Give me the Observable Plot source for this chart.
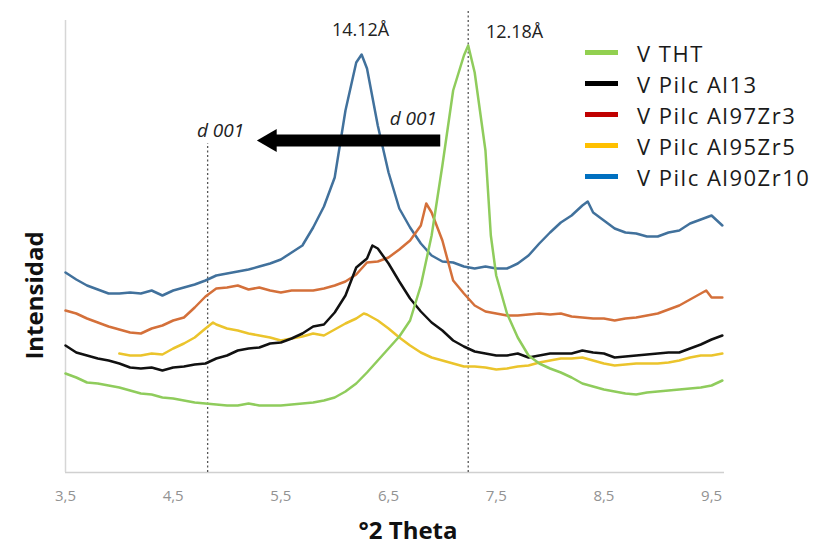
<!DOCTYPE html>
<html><head><meta charset="utf-8">
<script src="https://cdn.jsdelivr.net/npm/d3@7"></script>
<script src="https://cdn.jsdelivr.net/npm/@observablehq/plot@0.6"></script>
<style>
body{margin:0;background:#fff;font-family:"Open Sans",sans-serif;}
#wrap{position:relative;width:815px;height:550px;}
#legend{position:absolute;left:585px;top:37px;}
.item{display:flex;align-items:center;height:31px;}
.sw{width:33px;height:5px;margin-right:19px;}
.lab{font-size:22px;color:#1a1a1a;letter-spacing:1.5px;white-space:nowrap;}
</style></head><body><div id="wrap"><div id="legend"></div></div>
<script>
// Series names, line colours and legend swatch colours
const seriesNames = ["V THT", "V Pilc Al13", "V Pilc Al97Zr3", "V Pilc Al95Zr5", "V Pilc Al90Zr10"];
const lineColors = ["#8fcc5c", "#111111", "#d4703a", "#ebc42c", "#41719c"];
const legendColors = ["#92d050", "#000000", "#c00000", "#ffc000", "#0070c0"];
const xTicks = [3.5, 4.5, 5.5, 6.5, 7.5, 8.5, 9.5];

// Intensity (arbitrary units) vs °2θ
const vTHT = [[3.5,99],[3.6,95],[3.7,90],[3.8,89],[3.9,87],[4.0,85],[4.1,82],[4.2,79],[4.3,78],[4.4,75],[4.5,74],[4.6,72],[4.7,70],[4.8,69],[4.9,68],[5.0,67],[5.1,67],[5.2,69],[5.3,67],[5.4,67],[5.5,67],[5.6,68],[5.7,69],[5.8,70],[5.9,72],[6.0,75],[6.1,81],[6.2,89],[6.3,100],[6.4,112],[6.5,124],[6.6,136],[6.7,152],[6.8,187],[6.9,237],[7.0,307],[7.1,382],[7.2,417],[7.24,427],[7.3,400],[7.4,322],[7.45,237],[7.5,197],[7.6,159],[7.7,135],[7.8,117],[7.9,109],[8.0,104],[8.1,100],[8.2,95],[8.3,89],[8.4,86],[8.5,83],[8.6,81],[8.7,79],[8.8,78],[8.9,80],[9.0,81],[9.1,82],[9.2,83],[9.3,84],[9.4,85],[9.5,87],[9.6,92]];
const vAl13 = [[3.5,127],[3.6,120],[3.7,117],[3.8,114],[3.9,112],[4.0,109],[4.1,105],[4.2,104],[4.3,105],[4.4,102],[4.5,105],[4.6,106],[4.7,108],[4.8,109],[4.9,114],[5.0,117],[5.1,122],[5.2,124],[5.3,125],[5.4,129],[5.5,130],[5.6,134],[5.7,139],[5.8,146],[5.9,148],[6.0,160],[6.1,177],[6.2,205],[6.3,214],[6.35,227],[6.4,224],[6.5,209],[6.6,191],[6.7,174],[6.8,161],[6.9,150],[7.0,142],[7.1,132],[7.2,126],[7.3,121],[7.4,119],[7.5,117],[7.6,117],[7.7,119],[7.8,115],[7.9,117],[8.0,119],[8.1,119],[8.2,119],[8.3,122],[8.4,120],[8.5,119],[8.6,115],[8.7,116],[8.8,117],[8.9,118],[9.0,119],[9.1,120],[9.2,120],[9.3,124],[9.4,128],[9.5,133],[9.6,137]];
const vAl97Zr3 = [[3.5,162],[3.6,159],[3.7,154],[3.8,150],[3.9,146],[4.0,143],[4.1,140],[4.2,139],[4.3,144],[4.4,147],[4.5,152],[4.6,155],[4.7,165],[4.8,176],[4.9,184],[5.0,185],[5.1,187],[5.2,183],[5.3,185],[5.4,182],[5.5,180],[5.6,182],[5.7,182],[5.8,182],[5.9,184],[6.0,187],[6.1,191],[6.2,198],[6.3,210],[6.4,211],[6.5,215],[6.6,223],[6.7,232],[6.8,247],[6.85,269],[6.9,260],[7.0,232],[7.1,192],[7.2,179],[7.3,167],[7.4,161],[7.5,159],[7.6,157],[7.7,157],[7.8,158],[7.9,159],[8.0,158],[8.1,159],[8.2,156],[8.3,155],[8.4,154],[8.5,154],[8.6,152],[8.7,154],[8.8,155],[8.9,157],[9.0,159],[9.1,163],[9.2,167],[9.3,173],[9.4,179],[9.45,182],[9.5,175],[9.6,175]];
const vAl95Zr5 = [[4.0,119],[4.1,117],[4.2,117],[4.3,119],[4.4,118],[4.5,124],[4.6,129],[4.7,135],[4.8,144],[4.87,150],[4.9,148],[5.0,144],[5.1,142],[5.2,139],[5.3,137],[5.4,135],[5.5,132],[5.6,134],[5.7,136],[5.8,139],[5.9,137],[6.0,143],[6.1,149],[6.2,154],[6.27,159],[6.3,158],[6.4,152],[6.5,144],[6.6,135],[6.7,127],[6.8,120],[6.9,115],[7.0,112],[7.1,109],[7.2,106],[7.3,106],[7.4,105],[7.5,103],[7.6,104],[7.7,106],[7.8,107],[7.9,110],[8.0,112],[8.1,114],[8.2,114],[8.3,115],[8.4,112],[8.5,109],[8.6,107],[8.7,108],[8.8,109],[8.9,109],[9.0,109],[9.1,110],[9.2,112],[9.3,115],[9.4,117],[9.5,117],[9.6,119]];
const vAl90Zr10 = [[3.5,200],[3.6,193],[3.7,187],[3.8,183],[3.9,179],[4.0,179],[4.1,180],[4.2,179],[4.3,182],[4.4,177],[4.5,182],[4.6,185],[4.7,188],[4.8,192],[4.9,197],[5.0,199],[5.1,201],[5.2,203],[5.3,206],[5.4,209],[5.5,213],[5.6,220],[5.7,227],[5.8,245],[5.9,266],[6.0,295],[6.1,362],[6.2,410],[6.25,418],[6.3,404],[6.4,347],[6.5,300],[6.6,264],[6.7,245],[6.8,229],[6.9,217],[7.0,211],[7.1,210],[7.2,206],[7.3,204],[7.4,206],[7.5,204],[7.6,204],[7.7,209],[7.8,217],[7.9,229],[8.0,240],[8.1,250],[8.2,257],[8.3,267],[8.35,271],[8.4,260],[8.5,252],[8.6,244],[8.7,240],[8.8,239],[8.9,236],[9.0,236],[9.1,240],[9.2,242],[9.3,249],[9.4,253],[9.5,257],[9.6,247]];

// Annotations
const dLines = [{x: 4.82, top: 329}, {x: 7.24, top: 462}];
const peakLabels = [{x: 6.24, y: 442, text: "14.12Å"}, {x: 7.67, y: 440, text: "12.18Å"}];
const dLabels = [{x: 4.94, y: 342, text: "d 001"}, {x: 6.73, y: 354, text: "d 001"}];
const arrowBody = [{x1: 6.98, x2: 5.42, y: 332}];
const arrowHead = [{x: 5.40, y: 332}];

const seriesData = [vTHT, vAl13, vAl97Zr3, vAl95Zr5, vAl90Zr10];
const table = [];
seriesData.forEach((arr, i) => arr.forEach(([x, y]) => table.push({series: seriesNames[i], x, y})));
const drawOrder = ["V Pilc Al90Zr10", "V Pilc Al95Zr5", "V Pilc Al97Zr3", "V Pilc Al13", "V THT"];

const chart = Plot.plot({
  width: 815, height: 550,
  marginLeft: 65, marginRight: 91, marginTop: 10, marginBottom: 78,
  x: {domain: [3.5, 9.62]},
  y: {domain: [0, 462], axis: null},
  color: {domain: seriesNames, range: lineColors},
  style: {fontFamily: "'Open Sans', sans-serif", background: "white"},
  marks: [
    Plot.ruleY([0], {x1: 3.5, x2: 9.62, stroke: "#d0d0d0", strokeWidth: 1.5}),
    Plot.ruleX([3.5], {y1: 0, y2: 452, stroke: "#d6d6d6", strokeWidth: 1.5}),
    Plot.axisX({ticks: xTicks, tickFormat: d => String(d).replace(".", ","), tickSize: 0, tickPadding: 18, fontSize: 15, fill: "#929292", label: null}),
    Plot.ruleX(dLines, {x: "x", y1: 0, y2: "top", stroke: "#555", strokeWidth: 1.3, strokeDasharray: "2,2.5"}),
    ...drawOrder.map(name => Plot.line(table.filter(d => d.series === name), {x: "x", y: "y", stroke: "series", strokeWidth: 2.5, curve: "linear"})),
    Plot.link(arrowBody, {x1: "x1", x2: "x2", y1: "y", y2: "y", stroke: "black", strokeWidth: 12}),
    Plot.dot(arrowHead, {x: "x", y: "y", symbol: "triangle", r: 8.5, rotate: -90, fill: "black", stroke: null}),
    Plot.text(peakLabels, {x: "x", y: "y", text: "text", fontSize: 18, fill: "#222"}),
    Plot.text(dLabels, {x: "x", y: "y", text: "text", fontSize: 19, fontStyle: "italic", fill: "#222"}),
    Plot.text(["Intensidad"], {frameAnchor: "left", dx: -30, dy: 54, rotate: -90, textAnchor: "middle", fontSize: 24, fontWeight: "bold", fill: "#111"}),
    Plot.text(["°2 Theta"], {frameAnchor: "bottom", dx: 13, dy: 66, fontSize: 24, fontWeight: "bold", fill: "#111"})
  ]
});
document.getElementById("wrap").prepend(chart);

const legend = document.getElementById("legend");
seriesNames.forEach((name, i) => {
  const row = document.createElement("div");
  row.className = "item";
  const sw = document.createElement("div");
  sw.className = "sw";
  sw.style.background = legendColors[i];
  const lab = document.createElement("span");
  lab.className = "lab";
  lab.textContent = name;
  row.append(sw, lab);
  legend.append(row);
});
</script>
</body></html>
